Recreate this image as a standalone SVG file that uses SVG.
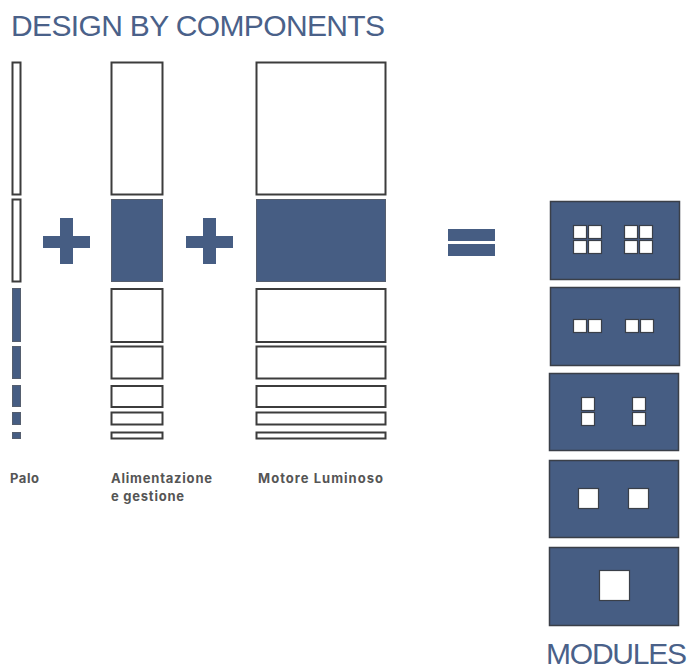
<svg xmlns="http://www.w3.org/2000/svg" width="690" height="671" viewBox="0 0 690 671">
<style>
.title{font-family:"Liberation Sans",Arial,sans-serif;font-size:30px;fill:#4a6189}
.lbl{font-family:Inter,"Liberation Sans",Arial,sans-serif;font-size:13px;font-weight:bold;fill:#555}
.o{fill:#fff;stroke:#3c3c3c;stroke-width:2}
.b{fill:#465d83;stroke:#555e6e;stroke-width:1}
.sym{fill:#465d83}
.m{fill:#465d83;stroke:#3a3f48;stroke-width:1.5}
.w{fill:#fff;stroke:#3a3f48;stroke-width:1.2}
</style>
<rect width="690" height="671" fill="#fff"/>
<text class="title" x="11" y="36" textLength="374">DESIGN BY COMPONENTS</text>
<g id="palo">
<rect class="o" x="12.5" y="62.5" width="8" height="132"/>
<rect class="o" x="12.5" y="199.5" width="8" height="82"/>
<rect class="b" x="12.5" y="288.5" width="8" height="53"/>
<rect class="b" x="12.5" y="346.5" width="8" height="32"/>
<rect class="b" x="12.5" y="385.5" width="8" height="21"/>
<rect class="b" x="12.5" y="412.5" width="8" height="12"/>
<rect class="b" x="12.5" y="432.5" width="8" height="6"/>
</g>
<g id="plus1">
<rect class="sym" x="60" y="218" width="13" height="46"/>
<rect class="sym" x="43" y="236" width="47" height="12"/>
</g>
<g id="alimentazione">
<rect class="o" x="111.5" y="62.5" width="51" height="132"/>
<rect class="b" x="111.5" y="199.5" width="51" height="82"/>
<rect class="o" x="111.5" y="289" width="51" height="53"/>
<rect class="o" x="111.5" y="346.5" width="51" height="32"/>
<rect class="o" x="111.5" y="386" width="51" height="21"/>
<rect class="o" x="111.5" y="412.5" width="51" height="12"/>
<rect class="o" x="111.5" y="432.5" width="51" height="6"/>
</g>
<g id="plus2">
<rect class="sym" x="203" y="218" width="13" height="46"/>
<rect class="sym" x="186" y="236" width="47" height="12"/>
</g>
<g id="motore">
<rect class="o" x="256.5" y="62.5" width="129" height="132"/>
<rect class="b" x="256.5" y="199.5" width="129" height="82"/>
<rect class="o" x="256.5" y="289" width="129" height="53"/>
<rect class="o" x="256.5" y="346.5" width="129" height="32"/>
<rect class="o" x="256.5" y="386" width="129" height="21"/>
<rect class="o" x="256.5" y="412.5" width="129" height="12"/>
<rect class="o" x="256.5" y="432.5" width="129" height="6"/>
</g>
<g id="equals">
<rect class="sym" x="448" y="229" width="47" height="12"/>
<rect class="sym" x="448" y="244" width="47" height="12"/>
</g>
<g id="module1">
<rect class="m" x="550.5" y="201.5" width="129" height="78"/>
<rect class="w" x="573.5" y="225.5" width="13" height="13"/>
<rect class="w" x="588.5" y="225.5" width="13" height="13"/>
<rect class="w" x="573.5" y="240.5" width="13" height="13"/>
<rect class="w" x="588.5" y="240.5" width="13" height="13"/>
<rect class="w" x="624.5" y="225.5" width="13" height="13"/>
<rect class="w" x="639.5" y="225.5" width="13" height="13"/>
<rect class="w" x="624.5" y="240.5" width="13" height="13"/>
<rect class="w" x="639.5" y="240.5" width="13" height="13"/>
</g>
<g id="module2">
<rect class="m" x="550.5" y="287.5" width="129" height="78"/>
<rect class="w" x="573.5" y="319.5" width="13" height="13"/>
<rect class="w" x="588.5" y="319.5" width="13" height="13"/>
<rect class="w" x="625.5" y="319.5" width="13" height="13"/>
<rect class="w" x="640.5" y="319.5" width="13" height="13"/>
</g>
<g id="module3">
<rect class="m" x="549.5" y="373.5" width="129" height="77"/>
<rect class="w" x="581.5" y="397.5" width="13" height="13"/>
<rect class="w" x="581.5" y="412.5" width="13" height="13"/>
<rect class="w" x="632.5" y="397.5" width="13" height="13"/>
<rect class="w" x="632.5" y="412.5" width="13" height="13"/>
</g>
<g id="module4">
<rect class="m" x="549.5" y="460.5" width="129" height="77"/>
<rect class="w" x="578.5" y="488.5" width="20" height="20"/>
<rect class="w" x="628.5" y="488.5" width="20" height="20"/>
</g>
<g id="module5">
<rect class="m" x="549.5" y="547.5" width="129" height="78"/>
<rect class="w" x="599.5" y="570.5" width="30" height="30"/>
</g>
<text class="lbl" x="10" y="483" textLength="29">Palo</text>
<text class="lbl" x="111" y="483" textLength="101">Alimentazione</text>
<text class="lbl" x="111" y="501" textLength="73">e gestione</text>
<text class="lbl" x="258" y="483" textLength="125">Motore Luminoso</text>
<text class="title" x="546" y="664" font-size="28" textLength="141">MODULES</text>
</svg>
